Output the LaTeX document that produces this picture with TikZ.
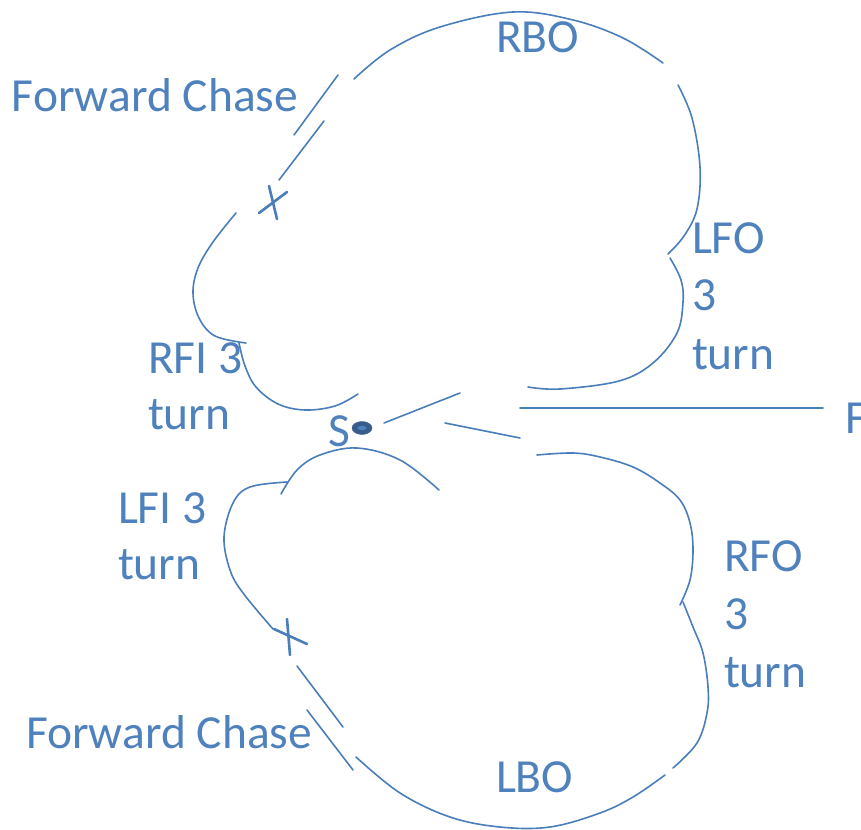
\documentclass[tikz,border=0pt]{standalone}
\usepackage{fontspec}
\usetikzlibrary{shapes.geometric}
\setmainfont{Carlito}
\definecolor{strokeblue}{HTML}{4A7EBB}
\definecolor{labelblue}{HTML}{4F81BD}
\definecolor{dotdark}{HTML}{385D8A}
\begin{document}
\begin{tikzpicture}[x=1pt,y=-1pt,
  curveline/.style={draw=strokeblue, line width=1.6pt, line cap=round},
  crossline/.style={draw=strokeblue, line width=2.6pt, line cap=round},
  txt/.style={text=labelblue, font=\fontsize{47.5}{56}\selectfont,
              inner sep=0pt, outer sep=0pt, anchor=base west}]
\useasboundingbox (0,0) rectangle (861,829);

% ---------- upper figure ----------
% RBO arc
\draw[curveline] plot[smooth, tension=0.6] coordinates
  {(354,79) (390,50) (440,27) (513,12) (573,20) (623,38) (663,63)};
% right outer arc
\draw[curveline] plot[smooth, tension=0.6] coordinates
  {(678,85) (692,118) (700,167) (697,209) (684,236) (668,254)};
% LFO lower lobe
\draw[curveline] plot[smooth, tension=0.6] coordinates
  {(670,258) (681,280) (683,302) (677,333) (653,363) (619,381) (560,389) (528,387)};
% RFI lobe
\draw[curveline] plot[smooth, tension=0.6] coordinates
  {(358,394) (335,406) (305,410) (278,404) (256,387) (245,366) (239,343)};
% left arc
\draw[curveline] plot[smooth, tension=0.6] coordinates
  {(236,213) (213,242) (198,268) (193,293) (199,318) (215,336) (246,343)};
% cross mark
\draw[crossline] (269,186) -- (277,219);
\draw[crossline] (259,213) -- (287,192);
% chase slashes
\draw[curveline] (294,135) -- (338,75);
\draw[curveline] (279,180) -- (324,121);

% ---------- start point ----------
\node[draw=dotdark, fill=dotdark, ellipse, minimum width=20pt, minimum height=13pt,
      inner sep=0pt] (dot) at (362,428) {};
\fill[labelblue] (dot.center) ellipse (4.5pt and 2.2pt);
\draw[curveline] (384,423) -- (460,393);
\draw[curveline] (445,423) -- (520,438);
\draw[curveline] (520,408) -- (823,408);

% ---------- lower figure ----------
% top bump
\draw[curveline] plot[smooth, tension=0.6] coordinates
  {(281,494) (297,470) (320,455) (357,448) (400,460) (439,490)};
% LFI lobe
\draw[curveline] plot[smooth, tension=0.6] coordinates
  {(287,482) (250,487) (233,503) (224,537) (230,570) (243,593) (273,629)};
% cross mark
\draw[crossline] (274,629) -- (307,644);
\draw[crossline] (287,619) -- (290,655);
% chase slashes
\draw[curveline] (297,666) -- (343,727);
\draw[curveline] (307,710) -- (353,770);
% LBO arc
\draw[curveline] plot[smooth, tension=0.6] coordinates
  {(356,757) (400,793) (450,817) (500,827) (550,827) (600,813) (633,797) (665,775)};
% RFO lower lobe
\draw[curveline] plot[smooth, tension=0.6] coordinates
  {(673,768) (697,743) (707,713) (708,687) (703,653) (693,627) (683,602)};
% RFO upper lobe
\draw[curveline] plot[smooth, tension=0.6] coordinates
  {(680,605) (690,580) (693,550) (690,523) (680,500) (660,483) (633,467) (600,457) (573,453) (537,455)};

% ---------- labels ----------
\node[txt] (fc1) at (12,112) {Forward Chase};
\node[txt] (rbo) at (496,53) {RBO};
\node[txt] (lfo1) at (692,253) {LFO};
\node[txt] (lfo2) at (692,310) {3};
\node[txt] (lfo3) at (692,369) {turn};
\node[txt] (rfi1) at (148,373) {RFI 3};
\node[txt] (rfi2) at (148,429) {turn};
\node[txt] (s) at (328,446) {S};
\node[txt] (f) at (845,433) {F};
\node[txt] (lfi1) at (118,523) {LFI 3};
\node[txt] (lfi2) at (118,579) {turn};
\node[txt] (rfo1) at (724,571) {RFO};
\node[txt] (rfo2) at (724,629) {3};
\node[txt] (rfo3) at (724,687) {turn};
\node[txt] (fc2) at (26,748) {Forward Chase};
\node[txt] (lbo) at (496,792) {LBO};
\end{tikzpicture}
\end{document}
